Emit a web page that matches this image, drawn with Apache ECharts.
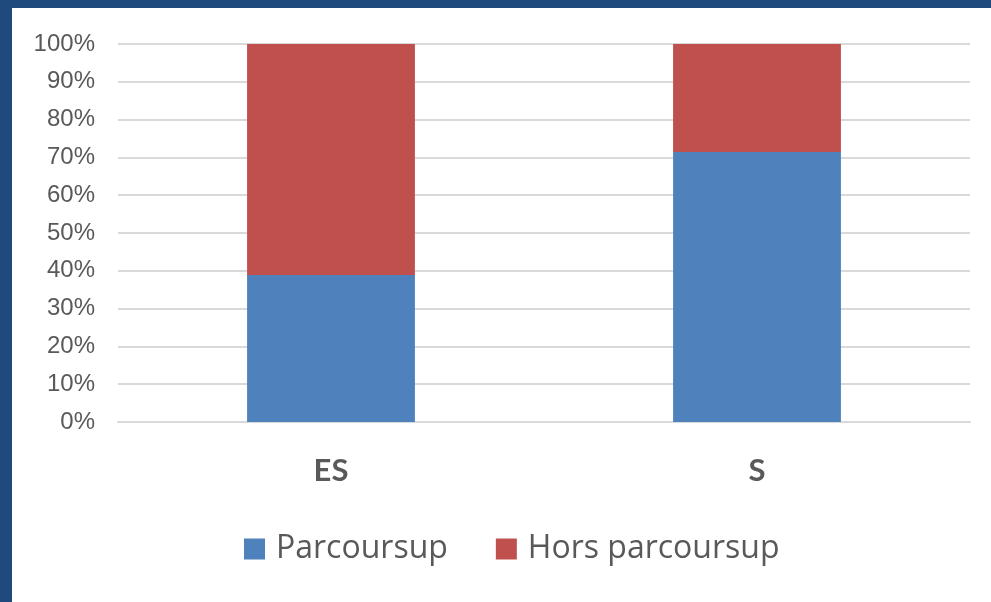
<!DOCTYPE html>
<html>
<head>
<meta charset="utf-8">
<script src="https://cdn.jsdelivr.net/npm/echarts@6/dist/echarts.min.js"></script>
<style>
    html, body { margin: 0; padding: 0; width: 991px; height: 602px; background: #1f4a7e; overflow: hidden; }
    #chart { position: absolute; left: 12px; top: 8px; width: 979px; height: 594px; background: #ffffff; }
</style>
</head>
<body>
<div id="chart"></div>
<script>
// filieres
var categories = ['ES', 'S'];
// part des eleves (%)
var parcoursup = [38.9, 71.4];
var horsParcoursup = [61.1, 28.6];
var yTicks = [0, 10, 20, 30, 40, 50, 60, 70, 80, 90, 100];

var myChart = echarts.init(document.getElementById('chart'));

var option = {
    animation: false,
    grid: {
        left: 106,
        right: 21,
        top: 36,
        bottom: 180
    },
    legend: {
        left: 227,
        top: 520,
        itemWidth: 21,
        itemHeight: 21,
        itemGap: 48,
        icon: 'rect',
        textStyle: {
            fontFamily: 'Open Sans',
            fontSize: 32,
            color: '#595959',
            padding: [0, 0, 0, 6]
        },
        data: ['Parcoursup', 'Hors parcoursup']
    },
    xAxis: {
        type: 'category',
        data: categories,
        axisLine: { lineStyle: { color: '#d9d9d9', width: 2 } },
        axisTick: { show: false },
        axisLabel: {
            margin: 33,
            fontFamily: 'Lato',
            fontWeight: 'bold',
            fontSize: 31,
            color: '#595959'
        }
    },
    yAxis: {
        type: 'value',
        min: yTicks[0],
        max: yTicks[yTicks.length - 1],
        interval: 10,
        axisLine: { show: false },
        axisTick: { show: false },
        splitLine: { lineStyle: { color: '#d9d9d9', width: 2 } },
        axisLabel: {
            margin: 23,
            formatter: '{value}%',
            fontFamily: 'Liberation Sans',
            fontSize: 24,
            color: '#595959'
        }
    },
    series: [
        {
            name: 'Parcoursup',
            type: 'bar',
            stack: 'total',
            barWidth: '39.4%',
            itemStyle: { color: '#4f81bd' },
            data: parcoursup
        },
        {
            name: 'Hors parcoursup',
            type: 'bar',
            stack: 'total',
            itemStyle: { color: '#c0504d' },
            data: horsParcoursup
        }
    ]
};
myChart.setOption(option);
</script>
</body>
</html>
